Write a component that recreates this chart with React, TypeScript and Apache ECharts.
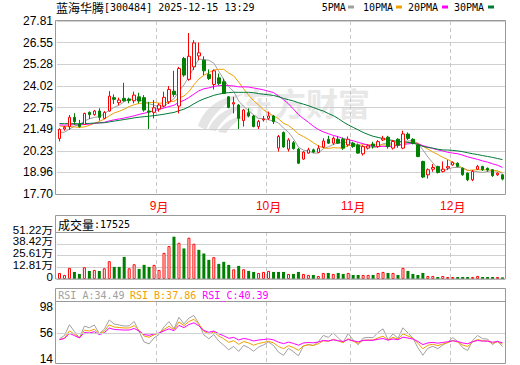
import React, { useEffect, useRef } from "react";
import * as echarts from "echarts";

// ---- data ----
const dates: string[] = [
  "08-04","08-05","08-06","08-07","08-08","08-11","08-12","08-13","08-14","08-15",
  "08-18","08-19","08-20","08-21","08-22","08-25","08-26","08-27","08-28","08-29",
  "09-01","09-02","09-03","09-04","09-05","09-08","09-09","09-10","09-11","09-12",
  "09-15","09-16","09-17","09-18","09-19","09-22","09-23","09-24","09-25","09-26",
  "09-29","09-30",
  "10-09","10-10","10-13","10-14","10-15","10-16","10-17","10-20","10-21","10-22",
  "10-23","10-24","10-27","10-28","10-29","10-30","10-31",
  "11-03","11-04","11-05","11-06","11-07","11-10","11-11","11-12","11-13","11-14",
  "11-17","11-18","11-19","11-20","11-21","11-24","11-25","11-26","11-27","11-28",
  "12-01","12-02","12-03","12-04","12-05","12-08","12-09","12-10","12-11","12-12","12-15",
];

const openP: number[] = [
  20.94,21.50,21.64,22.18,21.79,21.77,22.47,22.34,22.55,22.12,
  22.55,23.33,23.04,23.29,23.25,23.15,23.38,23.33,22.55,22.47,
  22.67,22.84,23.09,23.71,22.84,25.62,24.40,25.13,25.77,25.52,
  24.69,24.10,24.49,24.26,23.38,22.96,22.90,21.99,22.45,22.26,
  21.64,22.03,22.12,22.26,20.38,21.30,20.32,20.70,20.32,19.74,
  20.09,20.28,20.13,20.44,20.90,20.67,20.90,20.90,20.57,20.67,
  20.57,20.05,20.38,20.62,20.47,20.86,21.02,20.38,20.90,20.38,
  21.20,20.90,20.57,19.60,18.82,19.15,19.31,19.02,19.22,19.40,
  19.50,19.20,18.92,18.53,19.15,19.31,19.20,19.12,18.82,18.82,
];
const closeP: number[] = [
  21.48,21.60,22.18,21.93,21.64,22.41,22.34,22.55,22.18,22.47,
  23.42,23.23,23.19,23.15,23.16,23.48,23.13,22.61,22.49,22.74,
  22.90,23.35,23.81,23.52,25.03,24.65,25.75,26.53,25.95,24.90,
  24.45,24.90,24.16,23.58,22.76,23.04,22.12,22.61,22.26,21.64,
  21.93,22.08,22.26,21.93,21.06,20.45,20.86,20.35,19.50,20.15,
  20.28,20.15,20.38,20.80,20.67,20.96,20.67,20.38,20.90,20.47,
  20.09,20.47,20.51,20.50,20.76,20.96,20.47,20.77,20.55,21.21,
  20.95,20.67,19.89,18.69,19.12,19.25,18.96,19.15,19.30,19.55,
  19.31,18.82,18.53,19.02,19.31,19.12,19.10,18.77,18.92,18.57,
];
const lowP: number[] = [
  20.77,21.40,21.44,21.74,21.58,21.74,22.08,22.28,21.99,22.07,
  22.51,22.96,22.88,23.09,23.00,23.00,23.00,22.51,21.50,22.12,
  22.51,22.76,22.96,23.38,22.41,24.55,24.32,24.94,25.52,24.65,
  24.36,23.81,24.06,23.54,22.71,22.41,21.50,21.64,22.18,21.60,
  21.50,21.93,22.03,21.79,20.18,20.40,20.18,20.30,19.45,19.70,
  20.05,20.09,20.09,20.38,20.63,20.57,20.63,20.28,20.47,20.40,
  20.05,19.95,20.30,20.35,20.40,20.80,20.35,20.30,20.40,20.32,
  20.86,20.60,19.85,18.63,18.60,19.00,18.90,18.96,19.10,19.35,
  19.25,18.77,18.45,18.45,19.10,19.05,19.00,18.70,18.75,18.50,
];
const highP: number[] = [
  21.54,21.68,22.32,22.42,22.03,22.45,22.53,22.61,22.71,22.55,
  23.71,23.52,23.33,24.20,23.33,23.68,23.62,23.48,23.09,23.19,
  23.00,23.68,24.01,24.90,25.13,25.71,27.11,26.69,26.55,25.75,
  24.98,24.98,24.74,24.45,23.42,23.38,22.96,22.67,22.71,22.32,
  22.03,22.26,22.51,22.32,21.15,21.35,20.96,20.80,20.40,20.20,
  20.40,20.35,20.55,20.96,21.10,21.06,21.06,21.00,21.06,20.75,
  20.65,20.55,20.60,20.75,20.85,21.10,21.10,20.86,20.96,21.40,
  21.30,20.96,20.60,19.65,19.20,19.45,19.35,19.60,19.70,19.60,
  19.55,19.25,18.96,19.10,19.40,19.35,19.25,19.15,18.96,18.86,
];
// volume in 万 (10k)
const volumeW: number[] = [
  6.6,4.4,12.1,7.7,5.5,12.8,8.8,9.9,8.8,11.7,
  19.4,13.2,13.2,24.1,11.7,16.1,11.0,15.4,13.2,15.4,
  9.9,28.5,35.9,46.1,39.5,33.3,45.0,38.4,31.8,27.8,
  20.9,23.8,16.5,18.7,15.4,10.6,14.3,10.6,8.8,7.7,
  6.6,7.7,8.8,7.7,7.7,7.7,5.5,5.5,7.7,5.5,
  4.4,4.4,3.3,6.6,6.6,5.5,6.6,5.5,6.6,4.4,
  4.4,4.4,4.4,4.4,6.6,7.7,6.6,6.6,4.4,12.1,
  8.8,5.5,4.4,6.6,3.3,3.3,2.2,3.3,2.2,2.2,
  2.2,2.2,2.2,2.2,3.3,2.2,2.2,2.2,2.2,1.75,
];
// closes before the first visible day (estimated from the starting MA levels)
const priorCloses: number[] = [
  21.9,22.1,22.0,21.8,21.9,22.2,22.0,21.9,22.1,22.0,
  21.8,21.9,21.7,21.8,22.0,21.9,21.7,21.6,21.8,21.7,
  22.0,22.2,22.1,21.9,22.1,21.5,21.3,21.1,21.1,
];
const priceTickLabels = ["17.70","18.96","20.23","21.49","22.75","24.02","25.28","26.55","27.81"];
const volTickValues = [0, 12.805, 25.61, 38.415, 51.22];
const volTickLabels = ["0","12.81万","25.61万","38.42万","51.22万"];
const rsiTickValues = [14, 56, 98];
const maPeriods = [5, 10, 20, 30];
const maColors = ["#a0a0a0", "#f0a000", "#ff00ff", "#007a37"];
const rsiPeriods = [6, 12, 24];
const rsiColors = ["#a0a0a0", "#f0a000", "#ff00ff"];
const rsiHeader = ["RSI_A:34.49", "RSI_B:37.86", "RSI_C:40.39"];

const LOGO_D =
  "M2 40 C8 22 24 10 48 8 C30 16 16 28 10 44 Z M12 44 C18 30 32 20 50 19 C36 26 26 34 20 45 Z M22 46 C28 36 38 30 50 30 C42 34 34 40 30 47 Z";
try {
  echarts.graphic.registerShape("emLogo", (echarts.graphic as any).extendPath(LOGO_D, {}));
} catch (e) {}

const RED = "#ff0000";
const GREEN = "#008000";

export default function App() {
  const ref = useRef<HTMLDivElement>(null);
  useEffect(() => {
    if (!ref.current) return;
    const chart = echarts.init(ref.current, undefined, { renderer: "svg" });

    const full = priorCloses.concat(closeP);
    const off = priorCloses.length;
    const ma = (n: number) =>
      closeP.map((_, i) => {
        let s = 0;
        for (let k = i + off - n + 1; k <= i + off; k++) s += full[k];
        return +(s / n).toFixed(3);
      });
    const rsi = (n: number) => {
      let up = 0, all = 0;
      const out: number[] = [];
      for (let i = 1; i < full.length; i++) {
        const d = full[i] - full[i - 1];
        up = (Math.max(d, 0) + (n - 1) * up) / n;
        all = (Math.abs(d) + (n - 1) * all) / n;
        out.push(all === 0 ? 50 : (up / all) * 100);
      }
      return out.slice(off - 1).map((v) => +v.toFixed(2));
    };

    const monthStarts: number[] = [];
    dates.forEach((d, i) => {
      if (i > 0 && d.slice(0, 2) !== dates[i - 1].slice(0, 2)) monthStarts.push(i);
    });
    const isMonthStart = (i: number) => monthStarts.indexOf(i) >= 0;

    const candleData = closeP.map((c, i) => [openP[i], c, lowP[i], highP[i]]);
    const volData = volumeW.map((v, i) => {
      const prev = i === 0 ? priorCloses[priorCloses.length - 1] : closeP[i - 1];
      const up = closeP[i] >= prev;
      return {
        value: v,
        itemStyle: up
          ? { color: "#ffffff", borderColor: RED, borderWidth: 1 }
          : { color: GREEN, borderColor: GREEN, borderWidth: 0 },
      };
    });

    const L = 57, R = 15;
    const xAxisFor = (gi: number, labels: boolean, split: boolean) => ({
      type: "category",
      gridIndex: gi,
      data: dates,
      boundaryGap: true,
      axisLine: { show: false },
      axisTick: { show: false },
      axisLabel: labels
        ? {
            show: true,
            interval: (i: number) => isMonthStart(i),
            formatter: (v: string) => `{d|${parseInt(v.slice(0, 2), 10)}}{c|月}`,
            margin: 6,
            rich: {
              d: { fontFamily: "Liberation Sans", fontSize: 12, color: RED },
              c: { fontFamily: "Noto Sans CJK SC", fontSize: 12, color: RED },
            },
          }
        : { show: false },
      splitLine: {
        show: split,
        interval: (i: number) => isMonthStart(i),
        lineStyle: { color: "#c8c8c8", width: 1, type: [4, 3] },
      },
    });

    const axisLabelBase = {
      color: "#000",
      fontSize: 12,
      fontFamily: "Liberation Sans, Noto Sans CJK SC",
      margin: 4,
      showMinLabel: true,
      showMaxLabel: true,
    };

    const monoFont = "DejaVu Sans Mono";
    const cjkFont = "Noto Sans CJK SC";

    const graphics: any[] = [
      // watermark
      {
        id: "logo", type: "emLogo", x: 196, y: 86, scaleX: 1, scaleY: 1, z: -1, silent: true,
        style: { fill: "#e4e4e4" },
      },
      {
        id: "wm", type: "text", x: 242, y: 102, z: -1, silent: true,
        style: { text: "东方财富", fontSize: 32, fontWeight: "bold", fontFamily: cjkFont, fill: "#e8e8e8", verticalAlign: "middle" },
      },
      // title
      {
        id: "title", type: "text", x: 56, y: 7, z: 10,
        style: {
          text: "{c|蓝海华腾}{m|[300484] 2025-12-15 13:29}",
          verticalAlign: "middle",
          rich: {
            c: { fontFamily: cjkFont, fontSize: 12, fill: "#000" },
            m: { fontFamily: monoFont, fontSize: 10, fill: "#000" },
          },
        },
      },
      // boxes
      { id: "b1", type: "rect", z: 10, shape: { x: 55.5, y: 20.5, width: 450, height: 174 }, style: { fill: "none", stroke: "#999", lineWidth: 1 } },
      { id: "b2", type: "rect", z: 10, shape: { x: 55.5, y: 215.5, width: 450, height: 63.5 }, style: { fill: "none", stroke: "#999", lineWidth: 1 } },
      { id: "l2", type: "line", z: 10, shape: { x1: 55.5, y1: 232.5, x2: 505.5, y2: 232.5 }, style: { stroke: "#999", lineWidth: 1 } },
      { id: "b3", type: "rect", z: 10, shape: { x: 55.5, y: 288.5, width: 450, height: 75 }, style: { fill: "none", stroke: "#999", lineWidth: 1 } },
      { id: "l3", type: "line", z: 10, shape: { x1: 55.5, y1: 301.5, x2: 505.5, y2: 301.5 }, style: { stroke: "#999", lineWidth: 1 } },
      // volume header
      {
        id: "volhdr", type: "text", x: 58, y: 224, z: 10,
        style: {
          text: "{c|成交量}{m|:17525}",
          verticalAlign: "middle",
          rich: {
            c: { fontFamily: cjkFont, fontSize: 12, fill: "#000" },
            m: { fontFamily: monoFont, fontSize: 10, fill: "#000" },
          },
        },
      },
    ];
    // legend for MAs
    const legendX = [321.7, 363, 408, 454];
    const markerX = [348, 396, 442, 488];
    maPeriods.forEach((p, k) => {
      graphics.push({
        id: "lgt" + k, type: "text", x: legendX[k], y: 7, z: 10,
        style: { text: `${p}PMA`, fontFamily: monoFont, fontSize: 10, fill: "#000", verticalAlign: "middle" },
      });
      graphics.push({
        id: "lgm" + k, type: "rect", z: 10, shape: { x: markerX[k], y: 5.5, width: 6, height: 3 },
        style: { fill: maColors[k] },
      });
    });
    // RSI header
    const rsiHeaderX = [58.3, 130, 202.3];
    rsiHeader.forEach((t, k) => {
      graphics.push({
        id: "rsih" + k, type: "text", x: rsiHeaderX[k], y: 295.5, z: 10,
        style: { text: t, fontFamily: monoFont, fontSize: 10, fill: rsiColors[k], verticalAlign: "middle" },
      });
    });

    const series: any[] = [];
    maPeriods.forEach((p, k) => {
      series.push({
        name: `${p}PMA`, type: "line", xAxisIndex: 0, yAxisIndex: 0, data: ma(p),
        symbol: "none", lineStyle: { color: maColors[k], width: 1 }, z: 2,
      });
    });
    series.push({
      name: "K", type: "candlestick", xAxisIndex: 0, yAxisIndex: 0, data: candleData,
      barWidth: 3, z: 3,
      itemStyle: { color: "#ffffff", color0: GREEN, borderColor: RED, borderColor0: GREEN, borderWidth: 1 },
    });
    series.push({
      name: "VOL", type: "bar", xAxisIndex: 1, yAxisIndex: 1, data: volData, barWidth: 3,
    });
    rsiPeriods.forEach((p, k) => {
      const s: any = {
        name: rsiHeader[k], type: "line", xAxisIndex: 3, yAxisIndex: 3, data: rsi(p),
        symbol: "none", clip: false, lineStyle: { color: rsiColors[k], width: 1 }, z: 3,
      };
      if (k === 0) {
        s.markLine = {
          silent: true, symbol: "none", label: { show: false },
          lineStyle: { color: "#cfcfcf", type: "solid", width: 1 },
          data: [{ yAxis: 56 }],
        };
      }
      series.push(s);
    });

    chart.setOption({
      animation: false,
      backgroundColor: "#ffffff",
      grid: [
        { left: L, right: R, top: 21, height: 173 },
        { left: L, right: R, top: 232, height: 47 },
        { left: L, right: R, top: 302, height: 61 },
        { left: L, right: R, top: 306.7, height: 52.3 },
      ],
      xAxis: [
        xAxisFor(0, true, true),
        xAxisFor(1, false, true),
        xAxisFor(2, false, true),
        xAxisFor(3, false, false),
      ],
      yAxis: [
        {
          type: "value", gridIndex: 0, min: 17.7, max: 27.81, interval: 1.26375,
          axisLine: { show: false }, axisTick: { show: false },
          axisLabel: { ...axisLabelBase, formatter: (v: number) => priceTickLabels[Math.round((v - 17.7) / 1.26375)] ?? "" },
          splitLine: { lineStyle: { color: "#d0d0d0", width: 1 } },
        },
        {
          type: "value", gridIndex: 1, min: 0, max: 51.22, interval: 12.805,
          axisLine: { show: false }, axisTick: { show: false },
          axisLabel: { show: false },
          splitLine: { lineStyle: { color: "#d0d0d0", width: 1 } },
        },
        { type: "value", gridIndex: 2, min: 0, max: 100, show: false, splitLine: { show: false } },
        {
          type: "value", gridIndex: 3, min: rsiTickValues[0], max: rsiTickValues[2], interval: 42,
          axisLine: { show: false }, axisTick: { show: false },
          axisLabel: { ...axisLabelBase },
          splitLine: { show: false },
        },
      ],
      series,
    } as any);

    // volume axis labels placed through the volume axis scale
    const volLabels = volTickValues.map((v, k) => {
      const y = chart.convertToPixel({ yAxisIndex: 1 } as any, v) as unknown as number;
      return {
        id: "vl" + k, type: "text", x: 53, y: y - 2, z: 10, scaleX: 1.15, scaleY: 1,
        style: {
          text: volTickLabels[k], fontSize: 10, fontFamily: "Liberation Sans, Noto Sans CJK SC",
          fill: "#000", align: "right", verticalAlign: "middle",
        },
      };
    });

    chart.setOption({ graphic: { elements: graphics.concat(volLabels) } } as any);

    return () => chart.dispose();
  }, []);

  return (
    <div
      ref={ref}
      style={{ position: "fixed", left: 0, top: 0, width: 520, height: 365, background: "#fff" }}
    />
  );
}
